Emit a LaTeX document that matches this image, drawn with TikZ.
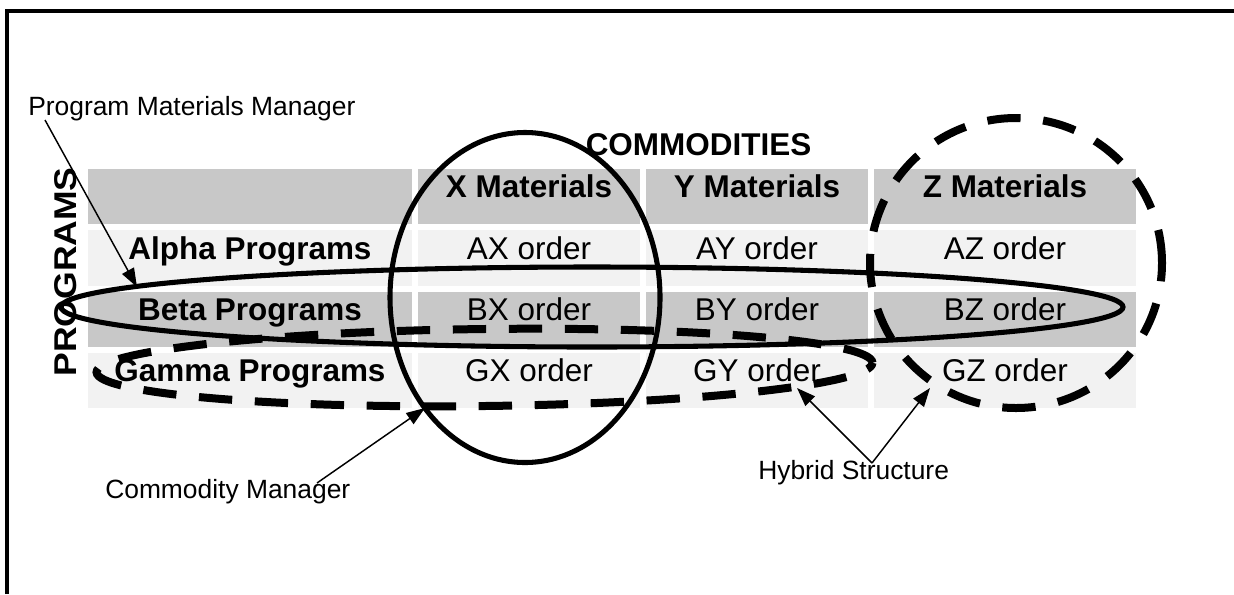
\documentclass[tikz,border=0pt]{standalone}
\usepackage{fontspec}
\setmainfont{Liberation Sans}
\usetikzlibrary{shapes.geometric,arrows.meta}
\definecolor{cellDark}{RGB}{200,200,200}
\definecolor{cellLight}{RGB}{242,242,242}
\newcommand{\tablefont}{\fontsize{23.6}{28}\selectfont}
\newcommand{\labelfont}{\fontsize{19.8}{24}\selectfont}
\begin{document}
\begin{tikzpicture}[x=0.75pt,y=-0.75pt,
  cell/.style={rectangle, inner sep=0pt, outer sep=0pt, minimum height=41.6pt},
  dk/.style={cell, fill=cellDark},
  lt/.style={cell, fill=cellLight},
  wA/.style={minimum width=243pt},
  wB/.style={minimum width=166.5pt},
  wC/.style={minimum width=196.5pt},
  hd/.style={font=\tablefont\bfseries, inner sep=0pt, anchor=base},
  tx/.style={font=\tablefont, inner sep=0pt, anchor=base},
  lbl/.style={font=\labelfont, inner sep=0pt, anchor=base west},
  ring/.style={ellipse, draw, inner sep=0pt, outer sep=0pt},
  solidring/.style={ring, line width=3.8pt},
  dashring/.style={ring, line width=6pt, dash pattern=on 25pt off 17pt},
  arr/.style={line width=1.1pt, -{Triangle[length=14pt,width=10pt]}}]
\useasboundingbox (0,0) rectangle (1234,594);

% frame (left and top edges)
\draw[line width=2.8pt] (7,594) -- (7,11) -- (1234,11);

% table cells
\node[dk,wA] (h0) at (250,196.5) {};
\node[dk,wB] (h1) at (529,196.5) {};
\node[dk,wB] (h2) at (757,196.5) {};
\node[dk,wC] (h3) at (1005,196.5) {};

\node[lt,wA] (a0) at (250,258) {};
\node[lt,wB] (a1) at (529,258) {};
\node[lt,wB] (a2) at (757,258) {};
\node[lt,wC] (a3) at (1005,258) {};

\node[dk,wA] (b0) at (250,319.5) {};
\node[dk,wB] (b1) at (529,319.5) {};
\node[dk,wB] (b2) at (757,319.5) {};
\node[dk,wC] (b3) at (1005,319.5) {};

\node[lt,wA] (g0) at (250,380.5) {};
\node[lt,wB] (g1) at (529,380.5) {};
\node[lt,wB] (g2) at (757,380.5) {};
\node[lt,wC] (g3) at (1005,380.5) {};

% cell texts
\node[hd] (th1) at ([yshift=-1.1pt]h1.center) {X Materials};
\node[hd] (th2) at ([yshift=-1.1pt]h2.center) {Y Materials};
\node[hd] (th3) at ([yshift=-1.1pt]h3.center) {Z Materials};

\node[hd] (ta0) at ([yshift=-1.1pt]a0.center) {Alpha Programs};
\node[tx] (ta1) at ([yshift=-1.1pt]a1.center) {AX order};
\node[tx] (ta2) at ([yshift=-1.1pt]a2.center) {AY order};
\node[tx] (ta3) at ([yshift=-1.1pt]a3.center) {AZ order};

\node[hd] (tb0) at ([yshift=-1.1pt]b0.center) {Beta Programs};
\node[tx] (tb1) at ([yshift=-1.1pt]b1.center) {BX order};
\node[tx] (tb2) at ([yshift=-1.1pt]b2.center) {BY order};
\node[tx] (tb3) at ([yshift=-1.1pt]b3.center) {BZ order};

\node[hd] (tg0) at ([yshift=-1.1pt]g0.center) {Gamma Programs};
\node[tx] (tg1) at ([yshift=-1.1pt]g1.center) {GX order};
\node[tx] (tg2) at ([yshift=-1.1pt]g2.center) {GY order};
\node[tx] (tg3) at ([yshift=-1.1pt]g3.center) {GZ order};

% axis titles
\node[hd] (comm) at (698.5,155) {COMMODITIES};
\node[rotate=90, inner sep=0pt] (progs) at (66,272)
  {\scalebox{1.13}[1.0]{\tablefont\bfseries PROGRAMS}};

% groupings
\node[solidring, minimum width=202.5pt, minimum height=247.5pt] (xring) at (525,297.5) {};
\node[solidring, minimum width=796.5pt, minimum height=60pt] (bring) at (592,307) {};
\node[dashring, rotate=0.7, minimum width=582pt, minimum height=57.75pt] (hring) at (484.5,367.5) {};
\node[dashring, minimum width=219pt, minimum height=217.5pt] (zring) at (1016,263) {};

% callout labels
\node[lbl] (pmm) at (28,115) {Program Materials Manager};
\node[lbl] (cm) at (105,498) {Commodity Manager};
\node[lbl] (hs) at (758,479) {Hybrid Structure};

% callout arrows
\coordinate (pmmFrom) at (45,120);
\coordinate (pmmTip) at (137,287);
\coordinate (cmFrom) at (317,483);
\coordinate (cmTip) at (425,408);
\coordinate (hsFrom) at (872,463);
\coordinate (hsTipY) at (797,388);
\coordinate (hsTipZ) at (930,388);
\draw[arr] (pmmFrom) -- (pmmTip);
\draw[arr] (cmFrom) -- (cmTip);
\draw[arr] (hsFrom) -- (hsTipY);
\draw[arr] (hsFrom) -- (hsTipZ);
\end{tikzpicture}
\end{document}
